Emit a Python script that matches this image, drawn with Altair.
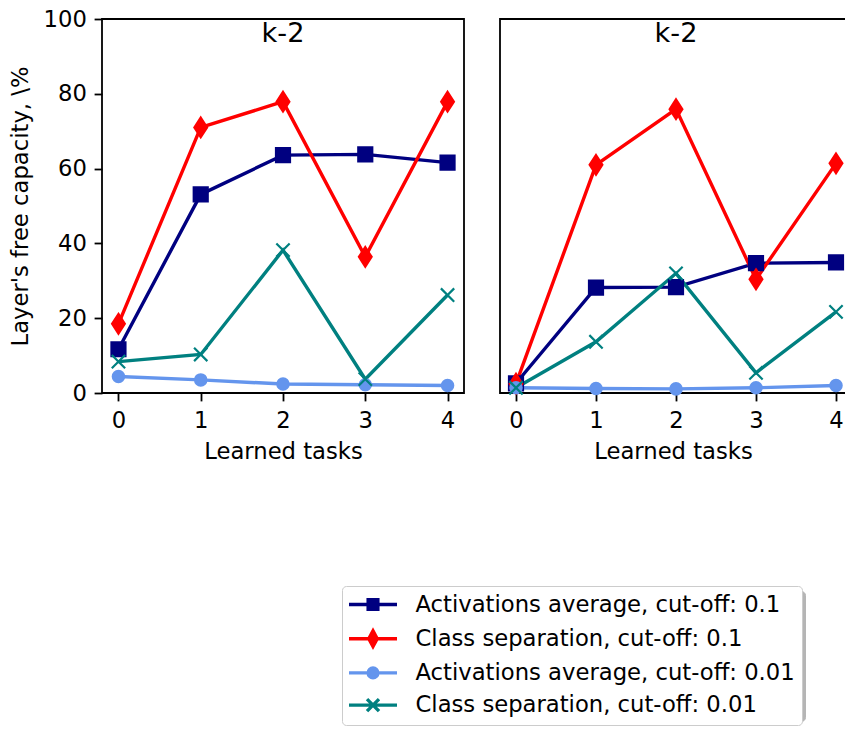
import altair as alt
import pandas as pd

# ---------------- data ----------------
tasks = [0, 1, 2, 3, 4]
series_names = [
    "Activations average, cut-off: 0.1",
    "Class separation, cut-off: 0.1",
    "Activations average, cut-off: 0.01",
    "Class separation, cut-off: 0.01",
]
series_colors = ["#000080", "#ff0000", "#6495ed", "#008080"]
panel_titles = ["k-2", "k-2"]
y_ticks = [0, 20, 40, 60, 80, 100]

left_act_01 = [11.7, 53.1, 63.6, 63.8, 61.6]
left_cls_01 = [18.5, 71.0, 77.9, 36.4, 77.9]
left_act_001 = [4.4, 3.5, 2.4, 2.2, 2.0]
left_cls_001 = [8.4, 10.3, 38.2, 3.7, 26.2]

right_act_01 = [2.6, 28.2, 28.3, 34.7, 34.9]
right_cls_01 = [2.5, 61.0, 75.9, 30.4, 61.4]
right_act_001 = [1.4, 1.2, 1.1, 1.4, 2.0]
right_cls_001 = [1.4, 13.7, 32.0, 5.4, 21.7]

# marker shapes (plot) and legend symbols (line + marker)
plot_shapes = [
    "M-1,-1H1V1H-1Z",
    "M0,-1.41L0.91,0L0,1.41L-0.91,0Z",
    "M0.81,0A0.81,0.81,0,1,1,-0.81,0A0.81,0.81,0,1,1,0.81,0Z",
    "M-0.95,-0.95L0.95,0.95M-0.95,0.95L0.95,-0.95",
]
legend_shapes = [
    "M-1.15,0H3.65M0.765,-0.485H1.735V0.485H0.765Z",
    "M-1.15,0H3.65M1.25,-0.78L1.67,0L1.25,0.78L0.83,0Z",
    "M-1.15,0H3.65M1.735,0A0.485,0.485,0,1,1,0.765,0A0.485,0.485,0,1,1,1.735,0Z",
    "M-1.15,0H3.65M0.65,-0.6L1.85,0.6M0.65,0.6L1.85,-0.6",
]

FONT = "DejaVu Sans"
FS = 22.7
PAD_L, PAD_T = 94, 11
SVG_W, SVG_H = 837, 717
LEG_X, LEG_Y = 342 - 8 - PAD_L, 586 - 8 - PAD_T


def make_df(cols):
    rows = []
    for name, vals in zip(series_names, cols):
        for t, v in zip(tasks, vals):
            rows.append({"task": t, "series": name, "series2": name, "value": v})
    return pd.DataFrame(rows)


left_df = make_df([left_act_01, left_cls_01, left_act_001, left_cls_001])
right_df = make_df([right_act_01, right_cls_01, right_act_001, right_cls_001])

common_legend = dict(
    title=None,
    orient="none",
    padding=6.5,
    cornerRadius=4,
    labelLimit=800,
    labelFont=FONT,
    labelFontSize=FS,
    labelColor="black",
    symbolSize=400,
    rowPadding=7.2,
    labelOffset=43,
    symbolOffset=0,
)
main_legend = alt.Legend(
    legendX=LEG_X, legendY=LEG_Y, fillColor="white", strokeColor="#cccccc",
    symbolStrokeWidth=3.4, symbolOpacity=1, zindex=2, **common_legend,
)
shadow_legend = alt.Legend(
    legendX=LEG_X + 5, legendY=LEG_Y + 5, fillColor="#b5b5b5", strokeColor="#b5b5b5",
    symbolOpacity=0, labelOpacity=0, zindex=1, **common_legend,
)

color_scale = alt.Scale(domain=series_names, range=series_colors)


def panel(df, title_text, width, xdom, show_y, with_legend):
    x = alt.X(
        "task:Q",
        scale=alt.Scale(domain=xdom, nice=False, zero=False),
        axis=alt.Axis(values=tasks, format="d", title="Learned tasks"),
    )
    if show_y:
        y = alt.Y(
            "value:Q",
            scale=alt.Scale(domain=[0, 100], nice=False),
            axis=alt.Axis(values=y_ticks, title="Layer's free capacity, \\%", titlePadding=11),
        )
    else:
        y = alt.Y("value:Q", scale=alt.Scale(domain=[0, 100], nice=False), axis=None)

    layers = []
    if with_legend:
        layers.append(
            alt.Chart(df).mark_point(filled=True, opacity=0).encode(
                x=x, y=y,
                color=alt.Color("series:N", scale=color_scale, legend=main_legend),
                stroke=alt.Stroke("series:N", scale=color_scale, legend=main_legend),
                shape=alt.Shape("series:N", scale=alt.Scale(domain=series_names, range=legend_shapes),
                                legend=main_legend),
            )
        )
        layers.append(
            alt.Chart(df).mark_line(opacity=0).encode(
                x=x, y=y,
                strokeDash=alt.StrokeDash("series2:N", legend=shadow_legend),
            )
        )
    layers.append(
        alt.Chart(df).mark_line(strokeWidth=3.4).encode(
            x=x, y=y, color=alt.Color("series:N", scale=color_scale, legend=None),
        )
    )
    for name, shp in zip(series_names, plot_shapes):
        layers.append(
            alt.Chart(df).transform_filter(alt.datum.series == name)
            .mark_point(filled=True, size=196, strokeWidth=2.2, opacity=1, shape=shp)
            .encode(
                x=x, y=y,
                color=alt.Color("series:N", scale=color_scale, legend=None),
                stroke=alt.Stroke("series:N", scale=color_scale, legend=None),
            )
        )
    layers.append(
        alt.Chart(pd.DataFrame({"label": [title_text]})).mark_text(
            font=FONT, fontSize=27.2, baseline="middle", align="center", color="black"
        ).encode(x=alt.X(datum=2), y=alt.Y(datum=96), text="label:N")
    )
    return alt.layer(*layers).properties(width=width, height=374)


left = panel(left_df, panel_titles[0], 362, [-0.2, 4.2], True, True)
right = panel(right_df, panel_titles[1], 346, [-0.2, 4.125], False, False)

chart = (
    alt.hconcat(left, right, spacing=34)
    .properties(
        autosize=alt.AutoSizeParams(type="none"),
        padding={"left": PAD_L, "top": PAD_T, "right": SVG_W - PAD_L, "bottom": SVG_H - PAD_T},
    )
    .configure_view(stroke="black", strokeWidth=1.8)
    .configure_axis(
        labelFont=FONT,
        labelFontSize=FS,
        labelColor="black",
        titleFont=FONT,
        titleFontSize=FS,
        titleFontWeight="normal",
        titleColor="black",
        tickColor="black",
        tickWidth=1.8,
        tickSize=7.9,
        labelPadding=7.7,
        domain=False,
        grid=False,
    )
    .configure_axisX(labelPadding=8.7, titlePadding=8.3)
)

chart.save("out.html", embed_options={"renderer": "svg", "actions": False})
